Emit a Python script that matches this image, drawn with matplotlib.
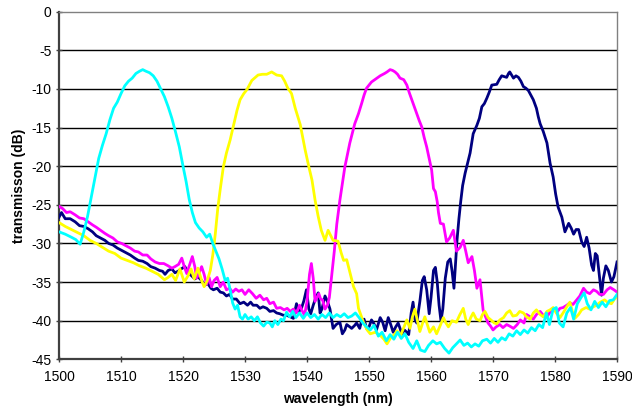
import matplotlib
matplotlib.use("Agg")
import matplotlib.pyplot as plt

plt.rcParams['font.family'] = ['Liberation Sans', 'DejaVu Sans']
plt.rcParams['axes.unicode_minus'] = False

cyan_x = [1500, 1501, 1502, 1502.7, 1503.4, 1504, 1504.6, 1505.2, 1505.8, 1506.4, 1507, 1507.6, 1508.2, 1508.8,
          1509.4, 1510, 1510.6, 1511.2, 1511.8, 1512.4, 1513, 1513.5, 1514, 1514.6, 1515.2, 1515.8, 1516.4, 1517,
          1517.6, 1518.2, 1518.8, 1519.4, 1520, 1520.5, 1521, 1521.5, 1522, 1522.6, 1523.2, 1523.8, 1524.3, 1524.8,
          1525.3, 1525.8, 1526.3, 1526.8, 1527.2, 1527.6, 1528, 1528.4, 1528.8, 1529.2, 1529.6, 1530, 1530.5, 1531,
          1531.5, 1532, 1532.5, 1533, 1533.5, 1534, 1534.4, 1534.8, 1535.3, 1535.8, 1536.2, 1536.7, 1537.2, 1537.7,
          1538.2, 1538.8, 1539.4, 1540, 1540.6, 1541.2, 1541.8, 1542.4, 1543, 1543.6, 1544.2, 1544.8, 1545.4, 1546,
          1546.6, 1547.2, 1547.8, 1548.4, 1549, 1549.6, 1550.2, 1550.8, 1551.5, 1552.1, 1552.8, 1553.4, 1554, 1554.6,
          1555.2, 1555.8, 1556.4, 1557.1, 1557.7, 1558.3, 1559, 1559.6, 1560.3, 1560.9, 1561.5, 1562.2, 1562.9,
          1563.5, 1564.1, 1564.7, 1565.3, 1565.9, 1566.5, 1567.1, 1567.7, 1568.3, 1569, 1569.6, 1570.2, 1570.8,
          1571.4, 1572, 1572.6, 1573.2, 1573.8, 1574.4, 1575, 1575.6, 1576.2, 1576.8, 1577.4, 1578, 1578.6, 1579.1,
          1579.7, 1580.2, 1580.7, 1581.3, 1581.9, 1582.5, 1583, 1583.6, 1584.2, 1584.7, 1585.2, 1585.8, 1586.4,
          1587, 1587.6, 1588.2, 1588.8, 1589.4, 1590]
cyan_y = [-28.5, -28.8, -29.2, -29.5, -30.1, -28.5, -26.5, -24.0, -21.5, -19.0, -17.3, -15.8, -14.0, -12.5,
          -11.7, -10.6, -9.6, -9.0, -8.6, -8.0, -7.7, -7.5, -7.7, -7.9, -8.3, -9.0, -10.0, -11.0,
          -12.3, -13.8, -15.6, -17.5, -20.0, -22.0, -24.3, -26.0, -27.3, -28.0, -28.5, -29.2, -28.8, -30.0,
          -31.0, -32.0, -33.3, -34.8, -34.5, -36.0, -37.7, -38.5, -38.0, -39.5, -39.8, -39.2, -39.8, -39.5,
          -40.0, -39.5, -40.3, -40.7, -40.2, -40.3, -40.8, -40.0, -40.5, -39.8, -40.0, -38.9, -39.5, -38.8,
          -39.6, -39.0, -39.7, -39.0, -39.6, -39.2, -39.8, -39.2, -39.6, -39.0, -39.6, -39.2, -39.5, -39.1,
          -39.6, -39.4, -39.0, -39.6, -40.3, -40.8, -41.2, -40.6, -42.0, -41.5, -42.6, -41.8, -42.4, -41.5,
          -42.3, -41.7, -42.8, -43.6, -42.6, -43.8, -44.0, -43.2, -42.6, -43.0, -42.8, -43.6, -44.2,
          -43.5, -43.0, -42.5, -43.2, -42.9, -43.4, -43.0, -43.3, -42.6, -42.4, -42.9, -42.3, -42.8,
          -42.2, -42.5, -41.7, -42.0, -41.3, -41.8, -41.2, -41.6, -40.9, -41.3, -40.5, -40.9, -39.0, -40.5,
          -38.5, -38.3, -40.3, -40.8, -39.0, -38.3, -39.8, -37.8, -37.0, -36.4, -37.8, -38.6, -37.5,
          -38.3, -37.6, -38.2, -37.4, -37.3, -36.6]

yellow_x = [1500, 1501, 1502, 1503, 1504, 1505, 1506, 1507, 1508, 1509, 1510, 1511, 1512, 1513, 1514, 1515, 1516,
            1517, 1517.6, 1518.2, 1518.8, 1519.5, 1520.2, 1520.8, 1521.3, 1521.8, 1522.4, 1523, 1523.4, 1523.9,
            1524.4, 1524.8, 1525.2, 1525.6, 1526, 1526.5, 1527, 1527.6, 1528.1, 1528.7, 1529.2, 1529.8, 1530.3,
            1531.1, 1532.1, 1532.8, 1533.5, 1534.3, 1535.1, 1535.9, 1536.4, 1536.9, 1537.5, 1538.1, 1538.9, 1539.7,
            1540.3, 1540.8, 1541.3, 1541.8, 1542.3, 1542.9, 1543.4, 1544.2, 1545, 1545.5, 1545.9, 1546.4, 1547,
            1547.5, 1548, 1548.3, 1549.1, 1549.7, 1550.2, 1551, 1551.8, 1552.4, 1552.9, 1553.5, 1554.1, 1554.5,
            1555.1, 1555.6, 1556.1, 1556.6, 1557.0, 1557.4, 1557.8, 1558.2, 1558.6, 1559, 1559.4, 1559.8, 1560.4,
            1560.9, 1561.5, 1562, 1562.4, 1562.8, 1563.4, 1564.1, 1564.6, 1565.2, 1565.6, 1566, 1566.4, 1566.8,
            1567.3, 1567.9, 1568.3, 1568.7, 1569.2, 1569.8, 1570.2, 1570.6, 1571.1, 1571.7, 1572.2, 1572.7, 1573.2,
            1573.8, 1574.3, 1574.9, 1575.4, 1576, 1576.5, 1577, 1577.6, 1578.1, 1578.7, 1579.2, 1579.7, 1580.2,
            1580.8, 1581.3, 1581.9, 1582.4, 1582.8, 1583.2, 1583.8, 1584.3, 1585, 1585.6, 1586.2, 1586.7, 1587.3,
            1588, 1588.6, 1589.1, 1589.6, 1590]
yellow_y = [-27.3, -27.8, -28.2, -28.6, -29.0, -29.6, -30.0, -30.5, -31.0, -31.3, -31.9, -32.2, -32.5, -32.9, -33.2,
            -33.6, -34.0, -34.7, -34.4, -34.0, -34.8, -33.3, -35.0, -34.2, -33.3, -34.6, -33.2, -34.8, -35.6, -34.8,
            -33.5, -31.5, -28.8, -25.5, -23.0, -20.1, -18.3, -16.6, -14.9, -12.8, -11.4, -10.6, -10.1,
            -8.9, -8.2, -8.1, -8.1, -7.8, -8.2, -8.3, -9.0, -9.9, -10.6, -12.5, -14.6, -17.9,
            -20.1, -21.8, -24.4, -26.5, -28.3, -29.6, -28.3, -29.6, -29.7, -31.2, -32.2, -32.1, -34.0,
            -35.6, -36.5, -38.4, -40.2, -41.2, -41.7, -41.5, -41.9, -42.4, -43.0, -42.2, -41.8, -41.3,
            -41.9, -40.9, -39.9, -41.0, -39.5, -38.5, -40.0, -41.4, -40.4, -39.5, -40.5, -41.5, -40.8,
            -41.7, -40.6, -39.6, -40.3, -40.8, -40.0, -40.2, -39.3, -38.4, -39.8, -40.5, -39.6, -39.0,
            -39.8, -40.0, -39.2, -38.8, -39.6, -40.0, -40.3, -40.4, -39.9, -39.6, -39.0, -38.7, -39.4,
            -39.3, -38.8, -39.0, -39.5, -39.8, -39.0, -38.6, -39.2, -39.5, -38.8, -38.6, -38.3, -39.0,
            -39.6, -39.0, -38.2, -37.6, -38.8, -39.7, -39.2, -38.6, -38.3, -38.5, -38.2, -38.0, -37.6,
            -37.3, -37.7, -37.8, -37.2, -36.9]

magenta_x = [1500, 1500.6, 1501.2, 1501.8, 1502.6, 1503.3, 1504, 1504.7, 1505.4, 1506, 1506.7, 1507.4, 1508, 1508.7,
             1509.4, 1510.1, 1510.8, 1511.5, 1512.2, 1512.8, 1513.5, 1514.2, 1514.8, 1515.5, 1516.2, 1516.9, 1517.6,
             1518.2, 1518.7, 1519.3, 1519.8, 1520.2, 1520.6, 1521.1, 1521.5, 1521.9, 1522.2, 1522.6, 1523, 1523.4,
             1523.8, 1524.2, 1524.6, 1525, 1525.5, 1526, 1526.5, 1527, 1527.5, 1528, 1528.5, 1529, 1529.5, 1530,
             1530.6, 1531.2, 1531.8, 1532.4, 1533, 1533.5, 1534, 1534.6, 1535.1, 1535.7, 1536.3, 1536.8, 1537.3,
             1537.8, 1538.3, 1538.8, 1539.2, 1539.6, 1540, 1540.4, 1540.7, 1541, 1541.3, 1541.6, 1541.9, 1542.2,
             1542.5, 1542.9, 1543.3, 1543.6, 1544, 1544.4, 1544.8, 1545.3, 1546.1, 1546.9, 1547.7, 1548.3, 1548.8,
             1549.2, 1549.6, 1550.4, 1551.1, 1551.8, 1552.5, 1552.9, 1553.4, 1553.8, 1554.2, 1554.6, 1555, 1555.6,
             1556.1, 1556.5, 1556.9, 1557.3, 1557.7, 1558.1, 1558.5, 1558.9, 1559.3, 1559.7, 1560.1, 1560.4, 1560.7,
             1561, 1561.2, 1561.5, 1562, 1562.5, 1563, 1563.6, 1564.1, 1564.7, 1565.2, 1565.6, 1566, 1566.6, 1567,
             1567.4, 1567.9, 1568.4, 1568.8, 1569.2, 1569.6, 1570, 1570.5, 1571.1, 1571.6, 1572.2, 1572.7, 1573.3,
             1573.9, 1574.4, 1575, 1575.4, 1576, 1576.5, 1577, 1577.6, 1578.1, 1578.7, 1579.2, 1579.7, 1580.3,
             1580.8, 1581.3, 1581.9, 1582.4, 1582.9, 1583.5, 1584, 1584.6, 1585.1, 1585.6, 1586.2, 1586.7, 1587.2,
             1587.8, 1588.4, 1588.9, 1589.5, 1590]
magenta_y = [-25.2, -25.5, -26.0, -25.9, -26.3, -26.7, -26.8, -27.2, -27.6, -27.9, -28.3, -28.7, -29.0, -29.3,
             -29.8, -30.0, -30.3, -30.6, -31.0, -31.1, -31.5, -31.5, -32.0, -32.4, -32.6, -32.6, -32.9,
             -33.2, -33.0, -32.7, -31.9, -33.0, -33.9, -32.7, -31.7, -33.0, -34.5, -33.8, -33.0, -34.0,
             -35.3, -34.4, -35.6, -34.8, -34.4, -35.6, -35.0, -36.0, -35.8, -36.3, -35.9, -36.2, -36.0, -36.6,
             -36.0, -36.5, -37.1, -36.7, -37.3, -37.1, -37.8, -37.6, -38.4, -38.3, -38.6, -38.4, -38.8,
             -38.5, -39.0, -38.0, -38.7, -39.3, -37.5, -34.0, -32.6, -34.5, -37.5, -37.0, -36.5, -37.2,
             -37.3, -38.5, -38.0, -37.0, -34.0, -31.0, -27.5, -24.4, -20.1, -17.0, -14.5, -13.2, -11.9,
             -10.8, -9.9, -9.1, -8.7, -8.3, -8.0, -7.8, -7.5, -7.6, -7.8, -8.1, -8.6, -8.8,
             -9.5, -10.5, -11.4, -12.3, -13.2, -14.1, -14.9, -16.3, -17.5, -19.0, -20.5, -22.9, -23.3,
             -24.6, -26.0, -27.4, -27.5, -29.8, -29.3, -28.3, -31.0, -30.5, -29.6, -31.0, -32.5, -31.7, -33.5,
             -35.8, -34.7, -38.6, -39.5, -40.3, -40.7, -41.2, -40.8, -40.5, -40.9, -40.5, -40.7, -41.0,
             -40.5, -39.9, -40.3, -39.2, -39.5, -39.8, -39.2, -38.8, -39.3, -39.5, -38.9, -38.5, -38.9,
             -38.4, -38.3, -38.0, -37.7, -37.9, -37.3, -36.8, -35.8, -36.3, -36.5, -36.0, -36.2, -36.6,
             -36.6, -36.0, -35.7, -36.0, -36.3]

navy_x = [1500, 1500.4, 1501, 1501.8, 1502.6, 1503.3, 1504, 1504.7, 1505.4, 1506, 1506.7, 1507.4, 1508, 1508.7,
          1509.4, 1510.1, 1510.8, 1511.5, 1512.2, 1512.8, 1513.5, 1514.2, 1514.8, 1515.5, 1516.2, 1516.7, 1517.1,
          1517.6, 1518.2, 1518.7, 1519.2, 1519.7, 1520.3, 1520.8, 1521.4, 1521.9, 1522.4, 1523, 1523.5, 1524,
          1524.5, 1524.9, 1525.5, 1526, 1526.5, 1527, 1527.5, 1528, 1528.6, 1529.2, 1529.8, 1530.4, 1530.9, 1531.3,
          1531.9, 1532.4, 1532.9, 1533.5, 1534, 1534.6, 1535.1, 1535.6, 1536.2, 1536.7, 1537.3, 1537.8, 1538.3,
          1538.7, 1539.1, 1539.5, 1539.9, 1540.3, 1540.6, 1541, 1541.3, 1541.8, 1542.1, 1542.4, 1542.9, 1543.3,
          1543.7, 1544.2, 1544.7, 1545.3, 1545.7, 1546.1, 1546.4, 1546.9, 1547.2, 1547.7, 1548, 1548.5, 1548.8,
          1549.2, 1549.6, 1550, 1550.4, 1550.8, 1551.2, 1551.8, 1552.2, 1552.6, 1553.1, 1553.5, 1553.9, 1554.3,
          1554.7, 1555.3, 1555.7, 1556.1, 1556.4, 1556.8, 1557.1, 1557.4, 1557.7, 1558.2, 1558.6, 1558.9, 1559.3,
          1559.7, 1560, 1560.4, 1560.7, 1561, 1561.3, 1561.6, 1561.9, 1562.3, 1562.7, 1563.1, 1563.4, 1563.7, 1564,
          1564.2, 1564.5, 1564.8, 1565.1, 1565.5, 1566.3, 1566.8, 1567.4, 1567.8, 1568.2, 1568.6, 1569, 1569.4,
          1569.8, 1570.6, 1571, 1571.4, 1571.8, 1572.2, 1572.5, 1572.7, 1573, 1573.3, 1573.7, 1574.1, 1574.5,
          1574.9, 1575.3, 1575.7, 1576.1, 1576.5, 1577, 1577.3, 1577.6, 1578.1, 1578.7, 1579.2, 1579.7, 1580.1,
          1580.5, 1581.1, 1581.6, 1582.2, 1582.6, 1583, 1583.4, 1583.8, 1584.3, 1584.7, 1585.1, 1585.5, 1585.9,
          1586.2, 1586.5, 1586.8, 1587.1, 1587.5, 1587.8, 1588.2, 1588.6, 1589.1, 1589.5, 1590]
navy_y = [-26.6, -26.0, -26.8, -26.8, -27.2, -27.7, -27.8, -28.1, -28.5, -29.0, -29.3, -29.6, -30.0, -30.2,
          -30.6, -30.9, -31.2, -31.5, -31.9, -32.2, -32.3, -32.6, -33.0, -33.2, -33.5, -33.6, -34.0,
          -33.5, -33.3, -33.8, -33.6, -33.3, -33.0, -33.8, -34.2, -34.6, -34.3, -34.8, -35.4, -35.2,
          -35.8, -36.0, -35.8, -36.3, -36.4, -36.8, -36.6, -37.2, -37.2, -37.8, -37.6, -38.0, -37.6, -38.0,
          -38.0, -38.4, -38.2, -38.4, -38.8, -38.7, -39.0, -39.1, -39.3, -39.3, -39.5, -39.7, -37.8,
          -38.8, -38.4, -37.4, -36.0, -38.5, -39.1, -38.0, -37.3, -36.4, -39.0, -38.5, -36.8, -37.5,
          -38.5, -41.0, -40.5, -40.2, -41.7, -41.2, -40.5, -40.8, -41.0, -40.6, -40.3, -41.0, -40.0,
          -39.8, -41.0, -40.8, -39.9, -40.4, -41.2, -39.6, -40.2, -41.3, -39.6, -40.5, -41.5, -40.8,
          -40.3, -41.7, -41.2, -41.5, -41.8, -39.0, -37.6, -39.8, -40.3, -37.5, -34.8, -34.3, -36.0,
          -39.1, -37.0, -33.5, -33.1, -35.0, -38.0, -40.0, -38.5, -34.5, -32.4, -32.0, -33.6, -35.8, -32.0,
          -29.5, -26.8, -24.5, -22.5, -20.9, -18.3, -15.8, -14.7, -13.8, -12.3, -11.9, -11.2, -10.4,
          -9.5, -9.4, -8.8, -8.3, -8.4, -8.5, -8.0, -7.8, -8.2, -8.6, -8.3, -8.5, -9.0,
          -9.7, -9.9, -10.2, -10.8, -11.4, -12.5, -13.6, -14.5, -15.5, -17.0, -19.6, -21.4, -23.6,
          -25.3, -26.6, -28.5, -27.4, -28.0, -28.8, -28.2, -28.2, -29.8, -30.4, -29.2, -30.6, -32.8,
          -33.5, -31.3, -31.6, -33.8, -36.7, -34.5, -32.9, -33.5, -35.0, -34.3, -32.4]

x_ticks = [1500, 1510, 1520, 1530, 1540, 1550, 1560, 1570, 1580, 1590]
y_ticks = [0, -5, -10, -15, -20, -25, -30, -35, -40, -45]

fig = plt.figure(figsize=(6.32, 4.09), dpi=100)
ax = fig.add_axes([0.0934, 0.1215, 0.8829, 0.8499])

lw = 2.0
ax.plot(navy_x, navy_y, color='#000080', lw=lw, zorder=3)
ax.plot(magenta_x, magenta_y, color='#FF00FF', lw=lw, zorder=4)
ax.plot(yellow_x, yellow_y, color='#FFFF00', lw=lw, zorder=5)
ax.plot(cyan_x, cyan_y, color='#00FFFF', lw=lw, zorder=6)

ax.set_xlim(1500, 1590)
ax.set_ylim(-45, 0)
ax.set_xticks(x_ticks)
ax.set_yticks(y_ticks)
for yv in y_ticks[1:-1]:
    ax.axhline(yv, color='black', lw=1.0, zorder=1)

for s in ['top', 'right']:
    ax.spines[s].set_color('#808080')
    ax.spines[s].set_linewidth(1.0)
for s in ['left', 'bottom']:
    ax.spines[s].set_color('#404040')
    ax.spines[s].set_linewidth(1.6)

ax.tick_params(axis='both', direction='inout', length=5, width=1, color='#404040', labelsize=10)
ax.tick_params(axis='x', pad=5)
ax.tick_params(axis='y', pad=3)
ax.set_xlabel('wavelength (nm)', fontsize=10, fontweight='bold', labelpad=6)
ax.set_ylabel('transmisson (dB)', fontsize=10, fontweight='bold', labelpad=4)

fig.savefig('out.png', dpi=100)
